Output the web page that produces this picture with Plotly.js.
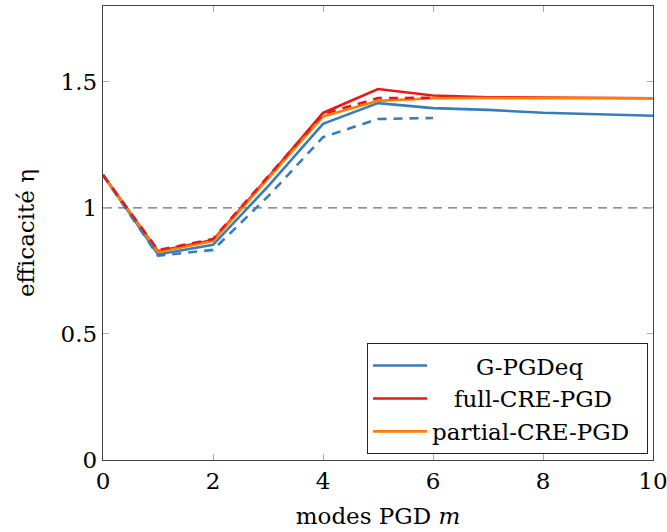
<!DOCTYPE html>
<html>
<head>
<meta charset="utf-8">
<script src="https://cdn.plot.ly/plotly-3.0.1.min.js"></script>
<style>html,body{margin:0;padding:0;background:#fff;}#chart{width:667px;height:532px;}</style>
</head>
<body>
<div id="chart"></div>
<script>
const modes = [0, 1, 2, 3, 4, 5, 6, 7, 8, 9, 10];
const modesShort = [0, 1, 2, 3, 4, 5, 6];
const gPGDeq = [1.13, 0.815, 0.853, 1.085, 1.333, 1.415, 1.395, 1.388, 1.377, 1.370, 1.365];
const fullCRE = [1.13, 0.828, 0.872, 1.12, 1.376, 1.471, 1.445, 1.438, 1.437, 1.436, 1.434];
const partialCRE = [1.13, 0.824, 0.868, 1.114, 1.362, 1.424, 1.434, 1.435, 1.435, 1.435, 1.434];
const gPGDeqDashed = [1.13, 0.810, 0.833, 1.045, 1.280, 1.352, 1.356];
const fullCREDashed = [1.13, 0.832, 0.876, 1.125, 1.372, 1.435, 1.436];
const refLine = [1, 1];
const refX = [0, 10];
const xTicks = [0, 2, 4, 6, 8, 10];
const yTicks = [0, 0.5, 1, 1.5];
const yTickText = ['0', '0.5', '1', '1.5'];
const legendNames = ['G-PGDeq', 'full-CRE-PGD', 'partial-CRE-PGD'];
const pad = (s, n) => '\u00A0'.repeat(n) + s + '\u00A0'.repeat(n + 1);
const legendPad = [6, 3, 0];

const blue = '#377eb8', red = '#e41a1c', orange = '#ff7f00';
const W = 2.6;

const traces = [
  {x: refX, y: refLine, mode: 'lines', line: {color: '#6e6e6e', width: 1.3, dash: '9px,6px'}, showlegend: false, hoverinfo: 'skip'},
  {x: modes, y: gPGDeq, mode: 'lines', name: pad(legendNames[0], legendPad[0]), line: {color: blue, width: W}},
  {x: modes, y: fullCRE, mode: 'lines', name: pad(legendNames[1], legendPad[1]), line: {color: red, width: W}},
  {x: modes, y: partialCRE, mode: 'lines', name: pad(legendNames[2], legendPad[2]), line: {color: orange, width: W}},
  {x: modesShort, y: gPGDeqDashed, mode: 'lines', showlegend: false, line: {color: blue, width: W, dash: '9px,7px'}},
  {x: modesShort, y: fullCREDashed, mode: 'lines', showlegend: false, line: {color: red, width: W, dash: '9px,7px'}}
];

const font = {family: 'DejaVu Serif, serif', size: 23, color: '#000'};
const layout = {
  width: 667, height: 532,
  margin: {l: 103, r: 14, t: 6, b: 72},
  paper_bgcolor: '#fff', plot_bgcolor: '#fff',
  font: font,
  showlegend: true,
  xaxis: {
    range: [0, 10], tickvals: xTicks, ticks: 'inside', ticklen: 6, tickcolor: '#aaa',
    showline: true, linecolor: '#444', linewidth: 1.3, mirror: 'ticks', showgrid: false, zeroline: false,
    tickfont: font, automargin: false, ticklabeloverflow: 'allow',
    title: {text: 'modes PGD <i>m</i>', font: font, standoff: 15}
  },
  yaxis: {
    range: [0, 1.8], tickvals: yTicks, ticktext: yTickText, ticks: 'inside', ticklen: 6, tickcolor: '#aaa',
    showline: true, linecolor: '#444', linewidth: 1.3, mirror: 'ticks', showgrid: false, zeroline: false,
    tickfont: font, automargin: false, ticklabeloverflow: 'allow',
    title: {text: 'efficacité η', font: font, standoff: 19}
  },
  legend: {
    x: 0.991, y: 0.013, xanchor: 'right', yanchor: 'bottom',
    bgcolor: '#fff', bordercolor: '#222', borderwidth: 1,
    font: font, tracegroupgap: 0, itemwidth: 54
  }
};
Plotly.newPlot('chart', traces, layout, {displayModeBar: false, staticPlot: true});
</script>
</body>
</html>
